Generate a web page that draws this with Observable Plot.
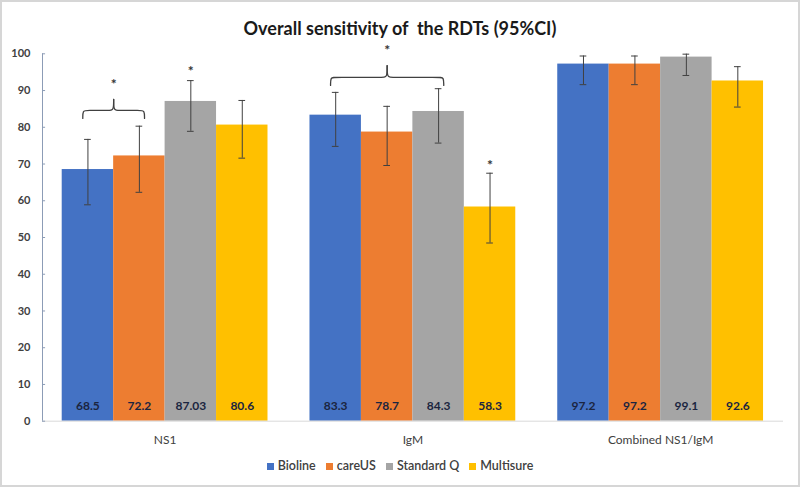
<!DOCTYPE html>
<html>
<head>
<meta charset="utf-8">
<script src="https://cdn.jsdelivr.net/npm/d3@7"></script>
<script src="https://cdn.jsdelivr.net/npm/@observablehq/plot@0.6"></script>
<style>
  html, body { margin: 0; padding: 0; background: #fff; }
  #wrap { position: relative; width: 800px; height: 487px; overflow: hidden; font-family: Lato, "Open Sans", sans-serif; }
  #frame { position: absolute; left: 0; top: 0; width: 800px; height: 487px; box-sizing: border-box; border: 2px solid #d6d6d6; pointer-events: none; }
  #title { position: absolute; left: 0; top: 17px; width: 800px; height: 22px; line-height: 22px; text-align: center; font-weight: bold; font-size: 18px; color: #1a1a1a; white-space: pre; }
  #chart { position: absolute; left: 0; top: 40px; }
  #legend { position: absolute; left: 0; top: 457px; width: 800px; height: 18px; line-height: 18px; display: flex; justify-content: center; align-items: center; font-size: 12.5px; font-weight: 600; color: #404040; }
  #legend .item { display: flex; align-items: center; margin: 0 5px; }
  #legend .sw { width: 7px; height: 7px; margin-right: 4px; }
  #chart g[aria-label^="y-axis"] text { font-weight: bold; }
</style>
</head>
<body>
<div id="wrap">
  <div id="title"></div>
  <div id="chart"></div>
  <div id="legend"></div>
  <div id="frame"></div>
</div>
<script>
// ---- data ----
const titleText = "Overall sensitivity of  the RDTs (95%CI)";
const groups = ["NS1", "IgM", "Combined NS1/IgM"];
const series = ["Bioline", "careUS", "Standard Q", "Multisure"];
const colors = ["#4472C4", "#ED7D31", "#A5A5A5", "#FFC000"];

const valuesNS1 = [68.5, 72.2, 87.03, 80.6];
const valuesIgM = [83.3, 78.7, 84.3, 58.3];
const valuesCombined = [97.2, 97.2, 99.1, 92.6];

const lowerNS1 = [58.9, 62.3, 78.9, 71.6];
const upperNS1 = [76.7, 80.3, 92.7, 87.3];
const lowerIgM = [74.8, 69.6, 75.7, 48.5];
const upperIgM = [89.5, 85.7, 90.5, 67.5];
const lowerCombined = [91.6, 91.6, 94.1, 85.5];
const upperCombined = [99.4, 99.4, 99.9, 96.5];

const yTicks = [0, 10, 20, 30, 40, 50, 60, 70, 80, 90, 100];

// significance annotations
const starGroups = ["NS1", "NS1", "IgM", "IgM"];
const starSlots = [1.0, 2.5, 1.5, 3.5];
const starY = [92.7, 96.3, 102, 70.8];

const braceGroups = ["NS1", "IgM"];
const braceFrom = ["Bioline", "Bioline"];
const braceTo = ["careUS", "Standard Q"];
const braceEndY = [82.4, 91.4];
const braceMidY = [84.6, 93.6];
const bracePeakY = [87.6, 96.8];

// ---- layout (in bar-width units) ----
const groupStep = 4.816;
const xMin = -0.383, xMax = 14.02;

const V = [valuesNS1, valuesIgM, valuesCombined];
const L = [lowerNS1, lowerIgM, lowerCombined];
const H = [upperNS1, upperIgM, upperCombined];

const rows = groups.flatMap((g, gi) => series.map((s, si) => ({
  group: g, series: s, value: V[gi][si], lo: L[gi][si], hi: H[gi][si],
  x1: gi * groupStep + si, x2: gi * groupStep + si + 1, xc: gi * groupStep + si + 0.5
})));

const stars = starGroups.map((g, i) => ({x: groups.indexOf(g) * groupStep + starSlots[i], y: starY[i]}));

const bracePts = braceGroups.flatMap((g, i) => {
  const off = groups.indexOf(g) * groupStep;
  const a = off + series.indexOf(braceFrom[i]) + 0.5 - 0.1;
  const b = off + series.indexOf(braceTo[i]) + 0.5 + 0.1;
  const m = (a + b) / 2;
  const e = braceEndY[i], c = braceMidY[i], p = bracePeakY[i];
  const left = [[a, e], [a, c], [a + 0.08, c], [m - 0.08, c], [m, c], [m, p]];
  const right = [[m, p], [m, c], [m + 0.08, c], [b - 0.08, c], [b, c], [b, e]];
  return [
    ...left.map(([x, y]) => ({id: 2 * i, x, y})),
    ...right.map(([x, y]) => ({id: 2 * i + 1, x, y}))
  ];
});

document.getElementById("title").textContent = titleText;

const chart = Plot.plot({
  width: 800,
  height: 410,
  marginLeft: 42,
  marginRight: 17,
  marginTop: 13.3,
  marginBottom: 29.3,
  style: {fontFamily: "Lato, 'Open Sans', sans-serif", fontSize: "11px", color: "#404040", background: "transparent", overflow: "visible"},
  x: {domain: [xMin, xMax], axis: null},
  y: {domain: [0, 100], ticks: yTicks, tickSize: 0, tickPadding: 12, label: null},
  color: {domain: series, range: colors},
  marks: [
    Plot.rectY(rows, {x1: "x1", x2: "x2", y1: 0, y2: "value", fill: "series"}),
    Plot.ruleY([0], {stroke: "#d9d9d9", strokeWidth: 1}),
    Plot.ruleX([xMin], {y1: 0, y2: 100, stroke: "#8c9cb6", strokeWidth: 1}),
    Plot.ruleY(yTicks, {x1: xMin, x2: xMin + 0.06, stroke: "#8c9cb6", strokeWidth: 1}),
    Plot.ruleX(rows, {x: "xc", y1: "lo", y2: "hi", stroke: "#404040", strokeWidth: 1}),
    Plot.ruleY(rows, {y: "lo", x1: d => d.xc - 0.065, x2: d => d.xc + 0.065, stroke: "#404040", strokeWidth: 1}),
    Plot.ruleY(rows, {y: "hi", x1: d => d.xc - 0.065, x2: d => d.xc + 0.065, stroke: "#404040", strokeWidth: 1}),
    Plot.text(rows, {x: "xc", y: 4, text: d => String(d.value), fontWeight: "bold", fontSize: 12, fill: "#1b2540"}),
    Plot.text(groups, {x: (d, i) => i * groupStep + 2, y: 0, dy: 19, text: d => d, fontSize: 12, fill: "#404040"}),
    Plot.text(stars, {x: "x", y: "y", text: () => "*", dy: 4, fontSize: 14, fontWeight: "bold", fill: "#333333"}),
    Plot.line(bracePts, {x: "x", y: "y", z: "id", curve: "basis", stroke: "#404040", strokeWidth: 1.3})
  ]
});
document.getElementById("chart").appendChild(chart);

const legend = document.getElementById("legend");
series.forEach((s, i) => {
  const item = document.createElement("div");
  item.className = "item";
  const sw = document.createElement("span");
  sw.className = "sw";
  sw.style.background = colors[i];
  const lab = document.createElement("span");
  lab.textContent = s;
  item.appendChild(sw);
  item.appendChild(lab);
  legend.appendChild(item);
});
</script>
</body>
</html>
